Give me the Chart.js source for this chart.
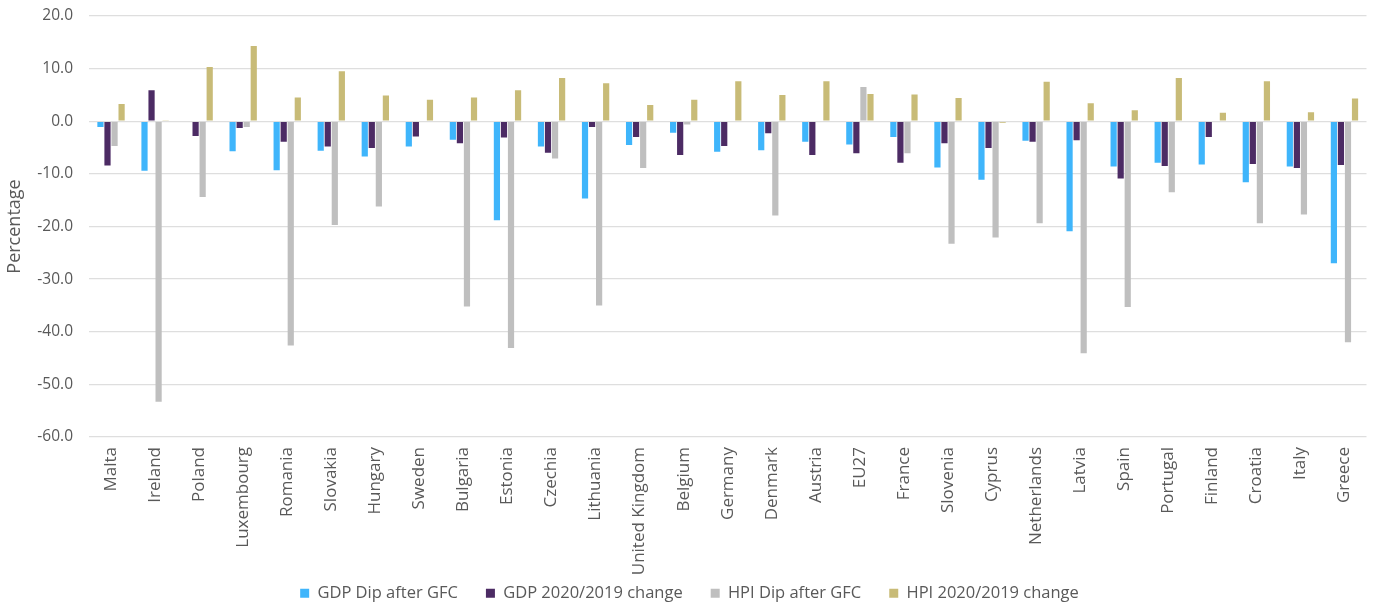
<!DOCTYPE html>
<html>
<head>
<meta charset="utf-8">
<script src="https://cdn.jsdelivr.net/npm/chart.js@4/dist/chart.umd.min.js"></script>
<style>
  html, body { margin: 0; padding: 0; background: #ffffff; }
  #wrap { width: 1375px; height: 606px; }
</style>
</head>
<body>
<div id="wrap"><canvas id="c" width="1375" height="606"></canvas></div>
<script>
const countries = ["Malta", "Ireland", "Poland", "Luxembourg", "Romania", "Slovakia", "Hungary", "Sweden",
  "Bulgaria", "Estonia", "Czechia", "Lithuania", "United Kingdom", "Belgium", "Germany", "Denmark",
  "Austria", "EU27", "France", "Slovenia", "Cyprus", "Netherlands", "Latvia", "Spain", "Portugal",
  "Finland", "Croatia", "Italy", "Greece"];

const gdpDipGFC = [-1.1, -9.4, 0.0, -5.7, -9.3, -5.6, -6.7, -4.8, -3.5, -18.8, -4.8, -14.7, -4.5, -2.2,
  -5.8, -5.5, -3.9, -4.4, -3.0, -8.8, -11.1, -3.7, -20.9, -8.6, -7.9, -8.2, -11.6, -8.6, -27.0];
const gdpChange2020 = [-8.4, 5.9, -2.8, -1.3, -3.9, -4.8, -5.1, -2.9, -4.2, -3.1, -6.0, -1.1, -3.0, -6.4,
  -4.7, -2.3, -6.4, -6.1, -7.9, -4.2, -5.1, -3.9, -3.6, -10.9, -8.5, -3.0, -8.1, -8.9, -8.3];
const hpiDipGFC = [-4.7, -53.3, -14.4, -1.1, -42.6, -19.7, -16.2, 0.0, -35.2, -43.1, -7.1, -35.0, -8.9, -0.6,
  0.0, -17.9, 0.0, 6.5, -6.1, -23.3, -22.1, -19.4, -44.1, -35.3, -13.5, 0.0, -19.4, -17.7, -42.0];
const hpiChange2020 = [3.3, 0.1, 10.3, 14.3, 4.5, 9.5, 4.9, 4.1, 4.5, 5.9, 8.2, 7.2, 3.1, 4.1,
  7.6, 5.0, 7.6, 5.2, 5.1, 4.4, -0.3, 7.5, 3.4, 2.1, 8.2, 1.6, 7.6, 1.7, 4.3];

const seriesNames = ["GDP Dip after GFC", "GDP 2020/2019 change", "HPI Dip after GFC", "HPI 2020/2019 change"];
const yTicks = [20, 10, 0, -10, -20, -30, -40, -50, -60];

const colors = ["#3fb5fb", "#4c2b64", "#bfbfbf", "#c8bb77"];
const seriesData = [gdpDipGFC, gdpChange2020, hpiDipGFC, hpiChange2020];

const textColor = "#595959";
const fontFamily = "'Open Sans', 'Noto Sans', sans-serif";

// The legend sits in the space beside the long rotated country names,
// so give it a fixed, compact height and nudge it down and to the right.
const compactLegend = {
  id: "compactLegend",
  afterInit(chart) {
    const lg = chart.legend;
    if (!lg || lg._compact) return;
    const fit = lg.fit.bind(lg);
    lg.fit = function () { fit(); this.height = 52; };
    lg._compact = true;
  },
  afterLayout(chart) {
    const lg = chart.legend;
    if (lg) {
      lg.left += 6; lg.right += 6;
      lg.top += 3; lg.bottom += 3;
    }
  }
};

new Chart(document.getElementById("c"), {
  type: "bar",
  data: {
    labels: countries,
    datasets: seriesNames.map((name, i) => ({
      label: name,
      data: seriesData[i],
      backgroundColor: colors[i],
      borderWidth: 0,
      categoryPercentage: 0.64,
      barPercentage: 0.88
    }))
  },
  plugins: [compactLegend],
  options: {
    responsive: false,
    animation: false,
    devicePixelRatio: 1,
    layout: { padding: { top: 0, right: 8, left: 0, bottom: 0 } },
    plugins: {
      legend: {
        position: "bottom",
        labels: {
          color: textColor,
          font: { family: fontFamily, size: 16.5 },
          boxWidth: 9,
          boxHeight: 9,
          padding: 28
        }
      },
      tooltip: { enabled: false }
    },
    scales: {
      x: {
        afterFit: (scale) => {
          scale.height = 117;
          // let the long country names run down beside the legend
          scale._computeLabelArea = () => undefined;
        },
        grid: { display: false, drawTicks: false },
        border: { display: false },
        ticks: {
          color: textColor,
          font: { family: fontFamily, size: 17 },
          minRotation: 90,
          maxRotation: 90,
          autoSkip: false,
          padding: 10
        }
      },
      y: {
        min: Math.min(...yTicks),
        max: Math.max(...yTicks),
        afterBuildTicks: (scale) => { scale.ticks = yTicks.map(v => ({ value: v })); },
        afterFit: (scale) => {
          scale.width = 89;
          scale.paddingTop = 16;
        },
        grid: { color: "#dedede", lineWidth: 1.3, drawTicks: false },
        border: { display: false },
        title: {
          display: true,
          text: "Percentage",
          color: textColor,
          font: { family: fontFamily, size: 18 },
          padding: { top: 4, bottom: 0 }
        },
        ticks: {
          color: textColor,
          font: { family: fontFamily, size: 15.5 },
          padding: 16,
          callback: (v) => Number(v).toFixed(1)
        }
      }
    }
  }
});
</script>
</body>
</html>
